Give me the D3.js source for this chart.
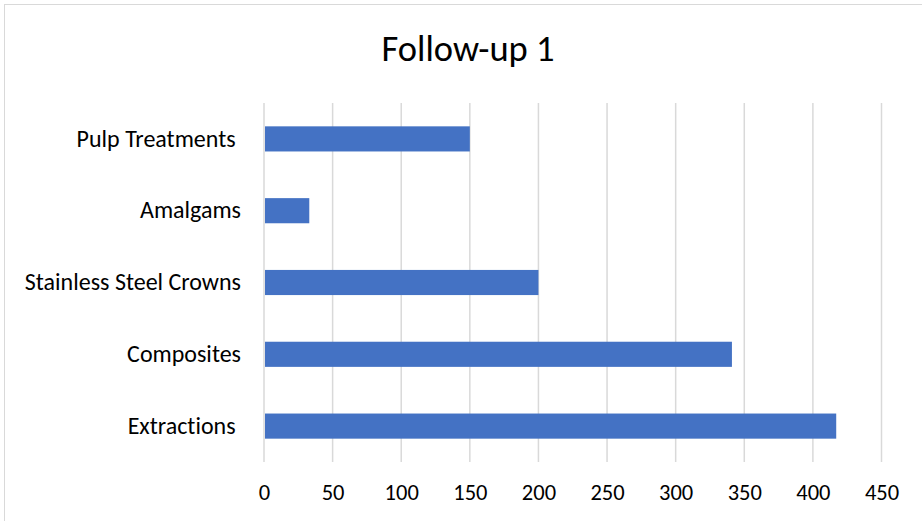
<!DOCTYPE html>
<html>
<head>
<meta charset="utf-8">
<script src="https://cdn.jsdelivr.net/npm/d3@7"></script>
<style>
  body { margin: 0; background: #fff; }
  text { font-family: Carlito, Calibri, "Open Sans", sans-serif; fill: #000; font-variant-ligatures: none; }
</style>
</head>
<body>
<div id="chart-area"></div>
<script>
// data (top to bottom)
var categories = ["Pulp Treatments ", "Amalgams", "Stainless Steel Crowns", "Composites", "Extractions "];
var values = [150, 33, 200, 341, 417];
var tickValues = [0, 50, 100, 150, 200, 250, 300, 350, 400, 450];

var W = 922, H = 521;
var margin = {left: 264, right: 40, top: 103, bottom: 59};
var width = 881.5 - margin.left;
var height = 462 - margin.top;
var fontFam = "Carlito, Calibri, 'Open Sans', sans-serif";

var svg = d3.select("#chart-area")
  .append("svg")
  .attr("width", W)
  .attr("height", H);

// chart border
svg.append("rect")
  .attr("x", 4.5).attr("y", 4.5)
  .attr("width", W + 10).attr("height", H + 10)
  .attr("fill", "none")
  .attr("stroke", "#d9d9d9")
  .attr("stroke-width", 1);

svg.append("text")
  .attr("x", 468)
  .attr("y", 61)
  .attr("text-anchor", "middle")
  .attr("font-size", "36.5px")
  .text("Follow-up 1");

var g = svg.append("g")
  .attr("transform", "translate(" + margin.left + "," + margin.top + ")");

var x = d3.scaleLinear().domain([0, 450]).range([0, width]);
var y = d3.scaleBand().domain(categories).range([0, height]).paddingInner(0.65).paddingOuter(0.325);

// gridlines
g.selectAll("line.grid").data(tickValues).enter().append("line")
  .attr("class", "grid")
  .attr("x1", d => x(d)).attr("x2", d => x(d))
  .attr("y1", 0).attr("y2", height)
  .attr("stroke", "#d9d9d9")
  .attr("stroke-width", 1.5);

// x axis labels
var xAxis = d3.axisBottom(x).tickValues(tickValues).tickSize(0).tickPadding(22);
var xg = g.append("g")
  .attr("transform", "translate(0," + height + ")")
  .call(xAxis);
xg.select(".domain").remove();
xg.selectAll("text").attr("font-size", "22.5px").attr("font-family", fontFam).attr("fill", "#000");

// y axis labels
var yAxis = d3.axisLeft(y).tickSize(0).tickPadding(23);
var yg = g.append("g").call(yAxis);
yg.select(".domain").remove();
yg.selectAll("text")
  .attr("font-size", "24px")
  .attr("font-family", fontFam)
  .attr("fill", "#000")
  .style("white-space", "pre");

// bars
g.selectAll("rect.bar").data(values).enter().append("rect")
  .attr("class", "bar")
  .attr("x", x(0) + 1)
  .attr("y", (d, i) => y(categories[i]))
  .attr("width", d => x(d) - x(0) - 1)
  .attr("height", y.bandwidth())
  .attr("fill", "#4472c4");
</script>
</body>
</html>
